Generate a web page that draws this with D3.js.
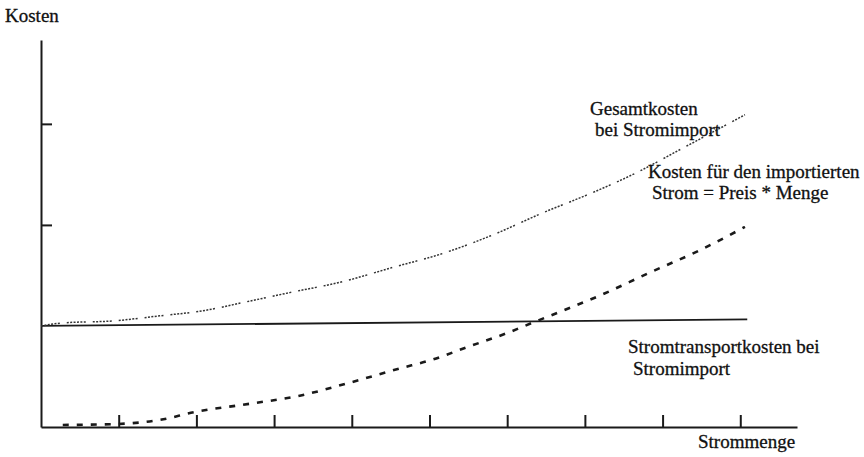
<!DOCTYPE html>
<html>
<head>
<meta charset="utf-8">
<script src="https://cdn.jsdelivr.net/npm/d3@7"></script>
<style>
  html, body { margin: 0; padding: 0; background: #fff; }
  svg { display: block; }
  text { font-family: "Liberation Serif", "Times New Roman", serif; fill: #111; stroke: #111; stroke-width: 0.3px; }
</style>
</head>
<body>
<svg id="chart" width="864" height="457"></svg>
<script>
// ---- data ----
const xTicks = [1, 2, 3, 4, 5, 6, 7, 8, 9];
const yTicks = [2, 3];

const importX = [0.28, 0.99, 1.53, 1.99, 2.69, 3.33, 3.98, 4.62, 5.01, 5.52, 6.0, 6.32, 6.81, 7.19, 7.84, 8.48, 9.06];
const importY = [0.02, 0.03, 0.07, 0.15, 0.23, 0.31, 0.44, 0.58, 0.66, 0.80, 0.93, 1.03, 1.18, 1.30, 1.53, 1.75, 1.98];

const totalX = [0, 0.28, 0.93, 1.53, 2.08, 2.65, 3.20, 3.89, 4.53, 5.14, 5.78, 6.46, 7.10, 7.62, 8.26, 8.65, 9.06];
const totalY = [1.0, 1.03, 1.05, 1.10, 1.15, 1.24, 1.33, 1.44, 1.58, 1.71, 1.89, 2.12, 2.32, 2.50, 2.76, 2.92, 3.09];

const transportX = [0, 9.09];
const transportY = [1.0, 1.065];

const yTitle = "Kosten";
const xTitle = "Strommenge";
const totalLabel = ["Gesamtkosten", "bei Stromimport"];
const importLabel = ["Kosten für den importierten", "Strom = Preis * Menge"];
const transportLabel = ["Stromtransportkosten  bei", "Stromimport"];

// ---- drawing ----
const svg = d3.select("#chart");
const x = d3.scaleLinear().domain([0, 9.73]).range([41, 797]);
const y = d3.scaleLinear().domain([0, 3.83]).range([427, 40]);

const ink = "#1a1a1a";

// axes
const xAxis = svg.append("g")
  .attr("transform", `translate(0,${y(0)})`)
  .call(d3.axisBottom(x).tickValues(xTicks).tickSize(-12).tickSizeOuter(0).tickFormat(""));
const yAxis = svg.append("g")
  .attr("transform", `translate(${x(0)},0)`)
  .call(d3.axisLeft(y).tickValues(yTicks).tickSize(-11).tickSizeOuter(0).tickFormat(""));
[xAxis, yAxis].forEach(g => {
  g.selectAll("path.domain").attr("stroke", ink).attr("stroke-width", 2);
  g.selectAll(".tick line").attr("stroke", ink).attr("stroke-width", 2);
});

const line = d3.line().x(d => x(d[0])).y(d => y(d[1])).curve(d3.curveMonotoneX);

// transport cost (solid)
svg.append("path")
  .datum(transportX.map((v, i) => [v, transportY[i]]))
  .attr("d", line)
  .attr("fill", "none").attr("stroke", ink).attr("stroke-width", 1.8);

// total cost (thin, groups of fine dots)
svg.append("path")
  .datum(totalX.map((v, i) => [v, totalY[i]]))
  .attr("d", line)
  .attr("fill", "none").attr("stroke", "#333").attr("stroke-width", 1.5)
  .attr("stroke-dasharray", "2,1.4,2,1.4,2,1.4,2,1.4,2,1.4,2,7");

// imported power cost (thick dashed)
svg.append("path")
  .datum(importX.map((v, i) => [v, importY[i]]))
  .attr("d", line)
  .attr("fill", "none").attr("stroke", ink).attr("stroke-width", 2.6)
  .attr("stroke-dasharray", "6,8");

// texts
const fs = "19px";
svg.append("text").attr("x", 5).attr("y", 22).style("font-size", fs).text(yTitle);
svg.append("text").attr("x", 698).attr("y", 448).style("font-size", fs).text(xTitle);

function block(lines, xs, ys) {
  lines.forEach((t, i) => {
    svg.append("text").attr("x", xs[i]).attr("y", ys[i]).style("font-size", fs).text(t);
  });
}
block(totalLabel, [590, 595], [115, 136]);
block(importLabel, [648, 652], [178, 199]);
block(transportLabel, [628, 633], [353, 375]);
</script>
</body>
</html>
